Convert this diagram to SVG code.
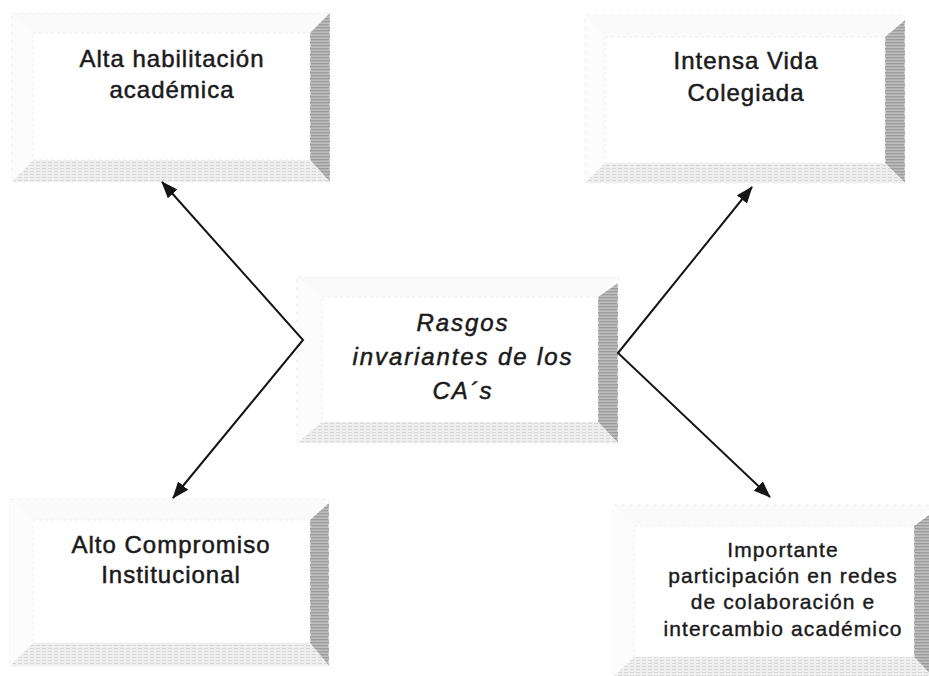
<svg xmlns="http://www.w3.org/2000/svg" width="929" height="676" viewBox="0 0 929 676">
  <defs>
    <pattern id="hatchDark" width="4" height="3" patternUnits="userSpaceOnUse">
      <rect width="4" height="3" fill="#bdbdbd"/>
      <rect width="4" height="1.4" fill="#9c9c9c"/>
    </pattern>
    <pattern id="hatchLight" width="6" height="3" patternUnits="userSpaceOnUse">
      <rect width="6" height="3" fill="#efefef"/>
      <rect width="4" height="1" fill="#d6d6d6"/>
    </pattern>
    <marker id="arrow" markerUnits="userSpaceOnUse" markerWidth="17" markerHeight="13" refX="16" refY="6.5" orient="auto-start-reverse">
      <path d="M0,0 L17,6.5 L0,13 Z" fill="#151515"/>
    </marker>
    <style>
      .bl { fill: #fcfcfc; }
      .bt { fill: #fafafa; }
      .br { fill: url(#hatchDark); }
      .bb { fill: url(#hatchLight); }
      .face { fill: #ffffff; stroke: #efefef; stroke-width: 1; stroke-dasharray: 3 3; }
      .outer { fill: none; stroke: #f0f0f0; stroke-width: 1; stroke-dasharray: 4 4; }
      .lbl { font-family: "Liberation Sans", Arial, sans-serif; font-size: 24px; fill: #1a1a1a; stroke: #1a1a1a; stroke-width: 0.5px; text-anchor: middle; letter-spacing: 1px; }
      .it { font-style: italic; letter-spacing: 1.9px; }
      .sm { font-size: 21px; letter-spacing: 1.1px; stroke-width: 0.4px; }
      .conn { fill: none; stroke: #151515; stroke-width: 2; }
    </style>
  </defs>

  <rect width="929" height="676" fill="#ffffff"/>

  <g id="node-alta-habilitacion">
    <polygon class="bt" points="12,13 330,13 310,33 33,33"/>
    <polygon class="bl" points="12,13 33,33 33,160 12,182"/>
    <polygon class="br" points="330,13 330,182 310,160 310,33"/>
    <polygon class="bb" points="12,182 33,160 310,160 330,182"/>
    <rect class="outer" x="12" y="13" width="318" height="169"/>
    <rect class="face" x="33" y="33" width="277" height="127"/>
    <text class="lbl" x="172" y="67">Alta habilitación</text>
    <text class="lbl" x="172" y="98">académica</text>
  </g>

  <g id="node-intensa-vida">
    <polygon class="bt" points="585,15 905,15 885,37 605,37"/>
    <polygon class="bl" points="585,15 605,37 605,163 585,183"/>
    <polygon class="br" points="905,20 905,183 885,163 885,37"/>
    <polygon class="bb" points="585,183 605,163 885,163 905,183"/>
    <rect class="outer" x="585" y="15" width="320" height="168"/>
    <rect class="face" x="605" y="37" width="280" height="126"/>
    <text class="lbl" x="746" y="69">Intensa Vida</text>
    <text class="lbl" x="746" y="101">Colegiada</text>
  </g>

  <g id="node-rasgos">
    <polygon class="bt" points="297,277 618,277 598,297 322,297"/>
    <polygon class="bl" points="297,277 322,297 322,422 297,443"/>
    <polygon class="br" points="618,283 618,443 598,422 598,297"/>
    <polygon class="bb" points="297,443 322,422 598,422 618,443"/>
    <rect class="outer" x="297" y="277" width="321" height="166"/>
    <rect class="face" x="322" y="297" width="276" height="125"/>
    <text class="lbl it" x="463" y="331">Rasgos</text>
    <text class="lbl it" x="463" y="365">invariantes de los</text>
    <text class="lbl it" x="463" y="399">CA´s</text>
  </g>

  <g id="node-alto-compromiso">
    <polygon class="bt" points="10,499 329,499 310,520 33,520"/>
    <polygon class="bl" points="10,499 33,520 33,643 10,666"/>
    <polygon class="br" points="329,503 329,666 310,643 310,520"/>
    <polygon class="bb" points="10,666 33,643 310,643 329,666"/>
    <rect class="outer" x="10" y="499" width="319" height="167"/>
    <rect class="face" x="33" y="520" width="277" height="123"/>
    <text class="lbl" x="171" y="553">Alto Compromiso</text>
    <text class="lbl" x="171" y="583">Institucional</text>
  </g>

  <g id="node-redes">
    <polygon class="bt" points="613,505 933,505 914,526 634,526"/>
    <polygon class="bl" points="613,505 634,526 634,657 613,677"/>
    <polygon class="br" points="933,512 933,677 914,657 914,526"/>
    <polygon class="bb" points="613,677 634,657 914,657 933,677"/>
    <rect class="outer" x="613" y="505" width="320" height="172"/>
    <rect class="face" x="634" y="526" width="280" height="131"/>
    <text class="lbl sm" x="783" y="557">Importante</text>
    <text class="lbl sm" x="783" y="583">participación en redes</text>
    <text class="lbl sm" x="783" y="609">de colaboración e</text>
    <text class="lbl sm" x="783" y="636">intercambio académico</text>
  </g>

  <g id="connectors">
    <path class="conn" d="M162,182 L303,340 L173,498" marker-start="url(#arrow)" marker-end="url(#arrow)"/>
    <path class="conn" d="M752,187 L618,353 L770,497" marker-start="url(#arrow)" marker-end="url(#arrow)"/>
  </g>
</svg>
